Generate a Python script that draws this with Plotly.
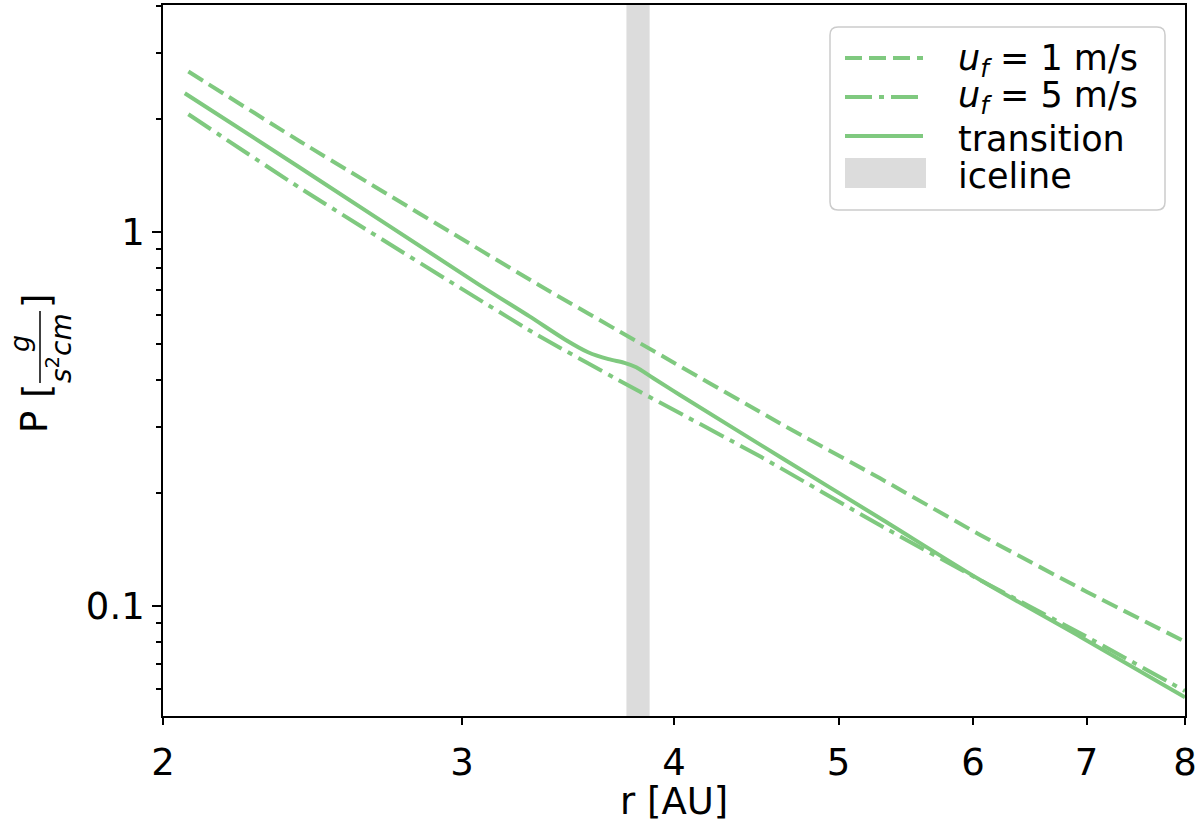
import plotly.graph_objects as go

# pressure profiles, r in AU, P in g/(s^2 cm)
r_slow = [2.07, 2.41, 3.33, 3.82, 4.62, 5.29, 6.06, 7.0, 8.0]
p_slow = [2.68, 1.74, 0.720, 0.503, 0.307, 0.219, 0.1545, 0.109, 0.0801]

r_fast = [2.07, 2.41, 3.31, 3.82, 4.50, 5.29, 6.06, 6.94, 8.0]
p_fast = [2.06, 1.306, 0.535, 0.373, 0.250, 0.164, 0.117, 0.0844, 0.0591]

r_trans = [2.06, 2.41, 3.07, 3.29, 3.45, 3.56, 3.66, 3.74, 3.80, 3.89, 4.03,
           4.62, 5.29, 6.06, 6.94, 8.0]
p_trans = [2.345, 1.48, 0.722, 0.5925, 0.515, 0.476, 0.456, 0.446, 0.434,
           0.4055, 0.3665, 0.2497, 0.1713, 0.1171, 0.0826, 0.0569]

iceline = [3.75, 3.87]

labels = ["<i>u</i><sub><i>f</i></sub> = 1 m/s",
          "<i>u</i><sub><i>f</i></sub> = 5 m/s",
          "transition", "iceline"]

green = "#7fc97f"
band = "#dcdcdc"
font = "DejaVu Sans"
dash_slow = "17px,7px"
dash_fast = "27px,7px,5px,7px"

fig = go.Figure()
fig.add_vrect(x0=iceline[0], x1=iceline[1], fillcolor=band, line_width=0,
              layer="below")
fig.add_trace(go.Scatter(x=r_slow, y=p_slow, mode="lines",
                         line=dict(color=green, width=4, dash=dash_slow,
                                   shape="spline", smoothing=0.5)))
fig.add_trace(go.Scatter(x=r_fast, y=p_fast, mode="lines",
                         line=dict(color=green, width=4, dash=dash_fast,
                                   shape="spline", smoothing=0.5)))
fig.add_trace(go.Scatter(x=r_trans, y=p_trans, mode="lines",
                         line=dict(color=green, width=4,
                                   shape="spline", smoothing=0.8)))

# plot area in pixels: x 163..1185, y 5..716
W, H, L, T = 1022, 711, 163, 5


def px(x):
    return (x - L) / W


def py(y):
    return (T + H - y) / H


# legend drawn by hand
bx0, bx1, by0, by1, rad = px(830), px(1165), py(210), py(27), 8
rx, ry = rad / W, rad / H
fig.add_shape(type="path", xref="paper", yref="paper",
              path=(f"M {bx0+rx},{by0} L {bx1-rx},{by0} Q {bx1},{by0} {bx1},{by0+ry} "
                    f"L {bx1},{by1-ry} Q {bx1},{by1} {bx1-rx},{by1} "
                    f"L {bx0+rx},{by1} Q {bx0},{by1} {bx0},{by1-ry} "
                    f"L {bx0},{by0+ry} Q {bx0},{by0} {bx0+rx},{by0} Z"),
              fillcolor="rgba(255,255,255,0.8)", line=dict(color="#cccccc", width=1.5))
rows = [58, 97, 136, 174]
for yy, d in zip(rows[:3], [dash_slow, dash_fast, "solid"]):
    fig.add_shape(type="line", xref="paper", yref="paper",
                  x0=px(845), x1=px(923), y0=py(yy), y1=py(yy),
                  line=dict(color=green, width=4, dash=d))
fig.add_shape(type="rect", xref="paper", yref="paper",
              x0=px(845), x1=px(926), y0=py(188), y1=py(158),
              fillcolor=band, line_width=0)
for yy, t in zip([60, 97, 139, 176], labels):
    fig.add_annotation(x=px(956), y=py(yy), xref="paper", yref="paper",
                       text=t, showarrow=False, xanchor="left", yanchor="middle",
                       font=dict(family=font, size=35, color="black"))


# y axis label with a fraction
def ylab(x, y, text, size):
    fig.add_annotation(x=px(x), y=py(y), xref="paper", yref="paper", text=text,
                       showarrow=False, textangle=-90, xanchor="center",
                       yanchor="middle", font=dict(family=font, size=size, color="black"))


ylab(35, 422, "P", 37)
ylab(38, 391, "[", 37)
ylab(38, 301, "]", 37)
ylab(20, 344, "<i>g</i>", 27)
ylab(60, 348, "<i>s</i><sup>2</sup><i>cm</i>", 28)
fig.add_shape(type="line", xref="paper", yref="paper",
              x0=px(40), x1=px(40), y0=py(383), y1=py(311),
              line=dict(color="black", width=1.5))

# x axis title
fig.add_annotation(x=0.5, y=py(801), xref="paper", yref="paper", text="r [AU]",
                   showarrow=False, xanchor="center", yanchor="middle",
                   font=dict(family=font, size=37, color="black"))

axis_common = dict(showgrid=False, zeroline=False, showline=True, mirror=True,
                   linecolor="black", linewidth=1.8, ticks="outside",
                   tickcolor="black", tickwidth=1.5, automargin=False,
                   tickfont=dict(family=font, size=37, color="black"))

fig.update_layout(
    width=1200, height=828,
    margin=dict(l=L, r=1200 - L - W, t=T, b=828 - T - H),
    paper_bgcolor="white", plot_bgcolor="white",
    showlegend=False,
    xaxis=dict(type="log", range=[0.30103, 0.90309],
               tickvals=[2, 3, 4, 5, 6, 7, 8], ticktext=["2", "3", "4", "5", "6", "7", "8"],
               ticklen=7, ticklabelstandoff=6,
               **axis_common),
    yaxis=dict(type="log", range=[-1.295, 0.606],
               tickvals=[0.1, 1], ticktext=["0.1", "1"], ticklen=9,
               minor=dict(tickvals=[0.06, 0.07, 0.08, 0.09, 0.2, 0.3, 0.4, 0.5,
                                    0.6, 0.7, 0.8, 0.9, 2, 3, 4],
                          ticks="outside", ticklen=5, tickcolor="black",
                          tickwidth=1.5, showgrid=False),
               **axis_common),
)

# the page body has a default margin; drop it so the figure sits at 0,0
fig.write_html("out.html", config={"displayModeBar": False},
               post_script="document.body.style.margin = '0';")
